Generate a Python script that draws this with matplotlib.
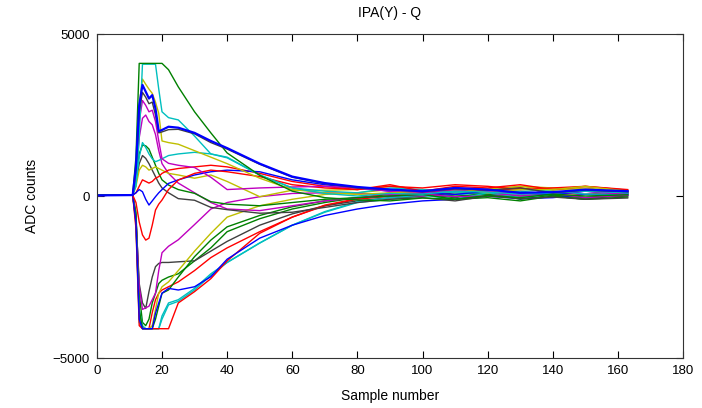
import numpy as np
import matplotlib.pyplot as plt

plt.rcParams['font.family'] = ['Liberation Sans', 'DejaVu Sans']

samples = [0, 11, 12, 13, 14, 15, 16, 17, 18, 19, 20, 22, 25, 30, 35, 40,
           50, 60, 70, 80, 90, 100, 110, 120, 130, 140, 150, 163]

# positive going traces (ADC counts)
g_sat = [30, 40, 1200, 4095, 4095, 4095, 4095, 4095, 4095, 4095, 4095, 3900,
         3370, 2600, 1950, 1330, 640, 150, -50, -120, -150, -60, -100, 20, -50, 60, 0, 40]
c_sat = [30, 40, 300, 1800, 4070, 4070, 4070, 4070, 4070, 3300, 2600, 2420,
         2350, 1850, 1300, 1180, 650, 250, 80, 0, 80, 60, 150, 120, 60, 90, 150, 100]
k_big = [20, 30, 800, 2600, 3200, 3050, 2850, 2900, 2500, 1950, 1980, 2050,
         2060, 1920, 1650, 1450, 980, 580, 380, 250, 200, 130, 220, 180, 250, 100, 180, 130]
y_peak = [30, 40, 700, 2800, 3610, 3450, 3300, 3170, 2900, 2550, 1700, 1650,
          1600, 1400, 1200, 1000, 550, 200, 100, 50, 100, 150, 250, 100, 200, 200, 300, 150]
m_a = [20, 30, 700, 2300, 2950, 2800, 2600, 2650, 2300, 1700, 1150, 1010,
       950, 880, 580, 200, 250, 280, 300, 250, 150, 100, 200, 150, 50, 100, 150, 50]
m_b = [20, 30, 500, 1800, 2400, 2500, 2300, 2200, 1900, 1400, 1000, 700,
       400, 100, -200, -400, -450, -300, -150, -50, 0, 50, -20, 0, 80, 80, -50, 30]
g_mid = [20, 30, 500, 1300, 1574, 1550, 1450, 1200, 950, 700, 500, 340,
         200, 83, -175, -250, -300, -200, -100, -50, 0, 50, -100, -50, -150, 0, -100, -30]
c_mid = [30, 40, 400, 1200, 1650, 1500, 1300, 1150, 1060, 1100, 1150, 1250,
         1300, 1350, 1300, 1200, 650, 250, 150, 100, 250, 200, 100, 100, 200, 150, 60, 60]
k_mid = [20, 30, 400, 1000, 1250, 1163, 1000, 800, 600, 400, 250, 100,
         -80, -130, -350, -420, -530, -500, -350, -200, -100, -50, -150, 0, -80, -30, -100, -60]
y_mid = [20, 30, 300, 800, 950, 900, 800, 850, 900, 850, 800, 700,
         650, 550, 650, 450, -20, 180, 180, 200, 300, 150, 200, 220, 300, 180, 250, 120]
r_dip = [20, 30, -200, -800, -1200, -1360, -1300, -900, -432, -250, -123, 200,
         494, 700, 800, 750, 600, 350, 250, 200, 350, 150, 300, 250, 350, 200, 300, 180]
b_dip = [20, 30, 100, 200, 133, -100, -278, -150, -20, 100, 200, 390,
         500, 650, 750, 800, 750, 500, 350, 250, 150, 100, 50, 150, 100, 50, 150, 100]
r_pos = [20, 30, 100, 300, 500, 450, 400, 450, 550, 600, 700, 800,
         850, 900, 950, 900, 700, 450, 300, 200, 300, 250, 350, 300, 200, 250, 300, 200]
b_big = [20, 30, 900, 2800, 3430, 3220, 3010, 3115, 2700, 2000, 2040, 2140,
         2110, 1950, 1700, 1480, 1000, 600, 400, 280, 200, 150, 250, 200, 100, 120, 200, 150]

# negative going traces
r_sat = [20, 30, -1000, -4000, -4095, -4095, -4095, -4095, -4095, -4095, -4095, -4095,
         -3300, -2950, -2550, -2000, -1150, -650, -280, -80, 100, 50, 200, 150, 250, 100, 200, 120]
c_neg = [20, 30, -900, -3900, -4095, -4095, -4095, -4095, -4095, -4095, -3800, -3360,
         -3250, -2900, -2450, -2050, -1450, -900, -480, -180, -50, 30, -100, 100, -50, 60, 200, 80]
c_neg2 = [20, 30, -700, -3500, -4000, -4095, -4095, -4095, -4095, -4095, -3700, -3300,
          -3200, -2850, -2400, -2050, -1450, -900, -500, -200, -100, 0, 50, 80, 150, 50, -50, 60]
m_deep = [20, 30, -700, -2800, -3500, -3450, -3400, -3200, -3000, -2300, -1750, -1550,
          -1350, -880, -400, -200, -20, 80, 100, 80, 50, 0, 150, 100, 0, 50, 150, 20]
k_deep = [20, 30, -700, -2700, -3300, -3470, -2950, -2500, -2180, -2080, -2050, -2050,
          -2030, -2000, -1700, -1400, -900, -550, -300, -150, -50, 0, 100, 80, 0, 50, -50, 0]
y_neg = [20, 30, -800, -3700, -4095, -4095, -4095, -4000, -3500, -3000, -2800, -2650,
         -2300, -1700, -1150, -650, -300, -100, 50, 100, 200, 200, 100, 150, 300, 250, 200, 120]
g_neg = [20, 30, -600, -3500, -4095, -4095, -4095, -4095, -3800, -3400, -3000, -2900,
         -2500, -1870, -1360, -950, -600, -330, -150, -50, 0, 50, -50, 100, -100, 30, -50, 80]
g_neg2 = [20, 30, -500, -3000, -3900, -4000, -3800, -3300, -3000, -2700, -2600, -2500,
          -2400, -2000, -1600, -1100, -700, -400, -200, -50, 50, 100, 0, 50, 100, 0, -100, 50]
r_neg2 = [20, 30, -700, -3600, -4050, -4095, -4095, -3600, -3200, -3000, -2900, -2800,
          -2650, -2300, -1900, -1600, -1100, -650, -300, -100, 0, 50, 150, 150, 250, 100, 50, 150]
b_neg = [20, 30, -800, -3800, -4095, -4095, -4095, -4095, -3620, -3300, -3000, -2850,
         -2900, -2800, -2490, -1950, -1300, -900, -600, -400, -250, -150, -100, 0, -80, -50, 50, 30]

# old matlab colour order
blue, green, red = (0, 0, 1), (0, 0.5, 0), (1, 0, 0)
cyan, magenta = (0, 0.75, 0.75), (0.75, 0, 0.75)
yellow, gray = (0.75, 0.75, 0), (0.25, 0.25, 0.25)

traces = [
    (r_neg2, red), (g_neg2, green), (c_neg2, cyan), (k_deep, gray),
    (m_deep, magenta), (y_neg, yellow), (g_neg, green), (c_neg, cyan),
    (r_sat, red), (b_neg, blue),
    (m_b, magenta), (g_mid, green), (k_mid, gray), (y_mid, yellow),
    (c_mid, cyan), (r_pos, red), (b_dip, blue), (r_dip, red),
    (m_a, magenta), (y_peak, yellow), (c_sat, cyan), (g_sat, green),
    (k_big, gray),
]

fig = plt.figure(figsize=(7.02, 4.08), dpi=100)
ax = fig.add_axes([0.138, 0.1225, 0.835, 0.794])

for vals, col in traces:
    ax.plot(samples, vals, color=col, linewidth=1.0)
ax.plot(samples, b_big, color=blue, linewidth=1.6)

ax.set_xlim(0, 180)
ax.set_ylim(-5000, 5000)
ax.set_xticks(np.arange(0, 181, 20))
ax.set_yticks([-5000, 0, 5000])
ax.tick_params(direction='in', length=5, top=True, right=True, labelsize=9.5, pad=5)
for sp in ax.spines.values():
    sp.set_color('#333333')

ax.set_title('IPA(Y) - Q', fontsize=10, pad=12)
ax.set_xlabel('Sample number', fontsize=10, labelpad=9)
ax.set_ylabel('ADC counts', fontsize=10, labelpad=10)

fig.savefig('out.png', dpi=100)
